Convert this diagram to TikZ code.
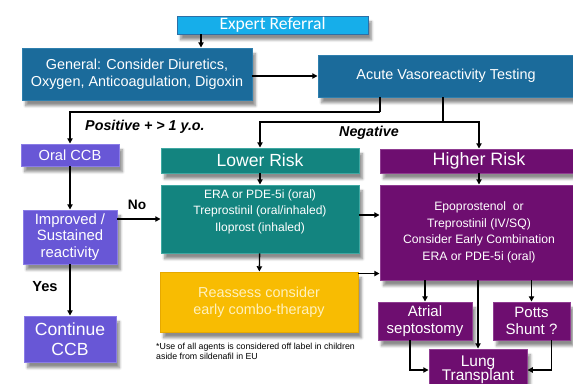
\documentclass[tikz,border=0pt]{standalone}
\usepackage{fontspec}
\setmainfont{Liberation Sans}
\newfontfamily\calib{Carlito}
\usepackage{tikz}
\usetikzlibrary{arrows.meta,positioning,calc,shadows.blur}
\usepackage{xcolor}

\definecolor{refcyan}{HTML}{16AEEA}
\definecolor{refcyanb}{HTML}{2C6FA6}
\definecolor{steel}{HTML}{1B6B9B}
\definecolor{steelb}{HTML}{2E7FAE}
\definecolor{ccbblue}{HTML}{6857D6}
\definecolor{ccbblueb}{HTML}{8A7CE6}
\definecolor{tealbox}{HTML}{13847F}
\definecolor{tealboxb}{HTML}{3FA8A2}
\definecolor{plum}{HTML}{6E0E70}
\definecolor{plumb}{HTML}{8F3C91}
\definecolor{gold}{HTML}{F8BC02}
\definecolor{goldb}{HTML}{E6A800}
\definecolor{goldtxt}{HTML}{FFF1BE}

\begin{document}
\begin{tikzpicture}[x=0.03cm, y=-0.03cm,
  sz/.style 2 args={minimum width=#1*0.03cm, minimum height=#2*0.03cm},
  card/.style={rectangle, inner sep=0pt, align=center, text=white, line width=0.8pt,
    blur shadow={shadow xshift=3pt, shadow yshift=-5pt, shadow blur steps=6, shadow opacity=45}},
  refbox/.style={card, fill=refcyan, draw=refcyanb, font=\calib\fontsize{15}{16}\selectfont},
  steelbox/.style={card, fill=steel, draw=steelb, font=\fontsize{12.3}{14.5}\selectfont},
  ccbbox/.style={card, fill=ccbblue, draw=ccbblueb, font=\fontsize{12.7}{13.8}\selectfont},
  tealbox/.style={card, fill=tealbox, draw=tealboxb},
  plumbox/.style={card, fill=plum, draw=plumb},
  goldbox/.style={card, fill=gold, draw=goldb, text=goldtxt, font=\fontsize{12.3}{14.8}\selectfont},
  arr/.style={-{Triangle[length=4.5pt,width=4.5pt]}, line width=1.2pt},
  lbl/.style={inner sep=0pt, font=\bfseries\itshape\fontsize{12.2}{13}\selectfont}]

  \useasboundingbox (0,0) rectangle (573,383);
  \clip (0,0) rectangle (573,383);

  % Top row
  \node[refbox, sz={191}{18}] (expert) at (272.5,25) {Expert Referral};
  \node[steelbox, sz={230}{52}] (general) at (137,74)
    {General: Consider Diuretics,\\Oxygen, Anticoagulation, Digoxin};
  \node[steelbox, sz={256}{42}] (acute) at (446,76) {Acute Vasoreactivity Testing};

  % CCB branch
  \node[ccbbox, sz={98}{22}, font=\fontsize{12.5}{14}\selectfont] (oral) at (70,155) {Oral CCB};
  \node[ccbbox, sz={94}{54}] (improved) at (70,237) {Improved /\\Sustained\\reactivity};
  \node[ccbbox, sz={92}{46}, font=\fontsize{15}{17}\selectfont] (cont) at (70,339) {Continue\\CCB};

  % Lower risk
  \node[tealbox, sz={198}{25}, font=\fontsize{15}{16}\selectfont] (lowrisk) at (260,160.5) {Lower Risk};
  \node[tealbox, sz={198}{68}, font=\fontsize{10.3}{14.4}\selectfont] (lowtx) at (260,219)
    {ERA or PDE-5i (oral)\\Treprostinil (oral/inhaled)\\Iloprost (inhaled)\\\mbox{}};
  \node[goldbox, sz={198}{60}] (reassess) at (259,302) {Reassess consider\\early combo-therapy};

  % Higher risk
  \node[plumbox, sz={198}{24}, font=\fontsize{15.3}{16}\selectfont] (highrisk) at (479,161) {Higher Risk};
  \node[plumbox, sz={198}{95}, font=\fontsize{10.4}{14.2}\selectfont] (hightx) at (479,232.5)
    {Epoprostenol\ \ or\\Treprostinil (IV/SQ)\\Consider Early Combination\\ERA or PDE-5i (oral)};
  \node[plumbox, sz={94}{38}, font=\fontsize{12.8}{14}\selectfont] (atrial) at (425,321) {Atrial\\septostomy};
  \node[plumbox, sz={77}{38}, font=\fontsize{12.8}{14}\selectfont] (potts) at (531.5,321) {Potts\\Shunt ?};
  \node[plumbox, sz={98}{42}, font=\fontsize{13.2}{12.6}\selectfont] (lung) at (478,370)
    {\raisebox{3pt}{\begin{tabular}{@{}c@{}}Lung\\[-1.5pt]Transplant\end{tabular}}};

  % Labels
  \node[lbl, anchor=west] (poslbl) at (85,127) {Positive + > 1 y.o.};
  \node[lbl] (neglbl) at (369,133) {Negative};
  \node[lbl, font=\bfseries\fontsize{11.7}{12}\selectfont] (nolbl) at (137,205) {No};
  \node[lbl, font=\bfseries\fontsize{12.5}{13}\selectfont] (yeslbl) at (45,287) {Yes};
  \node[anchor=north west, align=left, inner sep=0pt, font=\fontsize{7.5}{8.6}\selectfont] (note) at (156,343)
    {*Use of all agents is considered off label in children\\aside from sildenafil in EU};

  % Connectors
  \coordinate (pos) at (380,112);
  \coordinate (neg) at (443,122);
  \draw[arr] (expert.south -| 201,0) -- (general.north -| 201,0);
  \draw[arr] (general.east |- acute.west) -- (acute.west);
  \draw[line width=1.2pt] (acute.south -| pos) -- (pos);
  \draw[arr] (pos) -| (oral.north);
  \draw[line width=1.2pt] (acute.south -| neg) -- (neg);
  \draw[arr] (neg) -| (lowrisk.north);
  \draw[arr] (neg) -| (highrisk.north);
  \draw[arr] (oral) -- (improved);
  \draw[arr] (improved) -- (cont);
  \draw[arr] (improved.east |- lowtx.west) -- (lowtx.west);
  \draw[arr] (lowrisk) -- (lowtx);
  \draw[arr] (lowtx) -- (reassess);
  \draw[arr] ([yshift=0.12cm]lowtx.east) -- ([yshift=0.12cm]lowtx.east -| hightx.west);
  \coordinate (r1) at ([yshift=-0.06cm]reassess.north east);
  \draw[arr] (r1) -- (r1 -| hightx.west);
  \draw[arr] (highrisk) -- (hightx);
  \draw[arr] (hightx.south -| atrial.north) -- (atrial.north);
  \draw[arr] (hightx.south -| lung.north) -- (lung.north);
  \draw[arr] (hightx.south -| potts.north) -- (potts.north);
  \draw[arr] ([xshift=-0.45cm]atrial.south) |- (lung.west);
  \draw[arr] ([xshift=0.6cm]potts.south) |- (lung.east);
\end{tikzpicture}
\end{document}
